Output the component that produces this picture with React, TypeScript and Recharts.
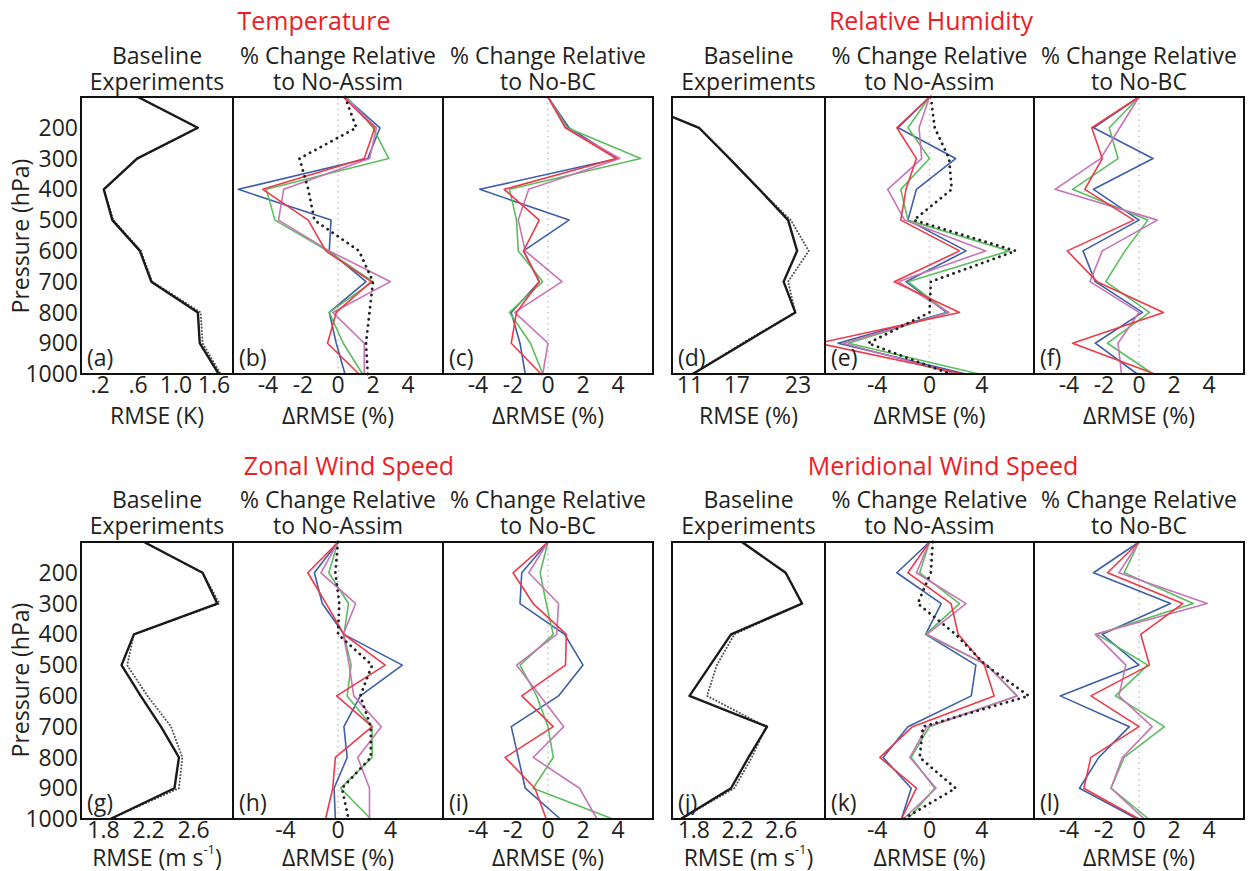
import React from 'react';
import { LineChart, Line, XAxis, YAxis, ReferenceLine } from 'recharts';

const pressure = [100, 200, 300, 400, 500, 600, 700, 800, 900, 1000];
const pressureTicks = [200, 300, 400, 500, 600, 700, 800, 900, 1000];

// (a) Temperature baseline
const tempBaseSolid = [0.6, 1.23, 0.59, 0.24, 0.33, 0.62, 0.74, 1.23, 1.25, 1.45];
const tempBaseDotted = [0.6, 1.23, 0.59, 0.24, 0.34, 0.63, 0.75, 1.26, 1.28, 1.47];
// (b) Temperature vs No-Assim
const tempAssimBlue = [0.4, 2.4, 1.7, -5.7, -0.4, -0.5, 1.6, -0.5, -0.1, 0.4];
const tempAssimGreen = [0.5, 2.0, 2.9, -4.1, -3.6, -0.6, 2.0, -0.5, 0.3, 1.4];
const tempAssimPink = [0.4, 2.2, 1.8, -3.1, -3.4, -0.5, 3.0, -0.3, 1.5, 1.5];
const tempAssimRed = [0.3, 2.1, 1.5, -4.3, -1.7, -0.7, 1.9, -0.1, -0.6, 1.2];
const tempAssimDotted = [0.4, 1.05, -2.2, -1.7, -1.35, 1.2, 2.0, 1.8, 1.6, 1.7];
// (c) Temperature vs No-BC
const tempBcBlue = [0, 1.2, 4.0, -3.9, 1.2, -1.4, -0.5, -2.1, -1.6, -1.3];
const tempBcGreen = [0, 1.1, 5.3, -2.2, -1.8, -1.7, -0.3, -2.2, -1.0, -0.3];
const tempBcPink = [0, 1.0, 4.1, -1.1, -1.7, -1.3, 0.8, -1.9, 0.0, -0.3];
const tempBcRed = [0, 1.0, 3.9, -2.5, -0.5, -1.4, -0.5, -1.8, -2.1, -0.4];

// (d) Relative humidity baseline
const rhBaseSolid = [3.6, 12.0, 15.4, 18.7, 21.9, 22.9, 21.4, 22.7, 17.0, 11.3];
const rhBaseDotted = [3.6, 12.0, 15.4, 18.7, 22.2, 24.2, 21.9, 22.7, 16.8, 11.3];
// (e) RH vs No-Assim
const rhAssimBlue = [0, -2.4, 2.0, -1.0, -1.65, 2.8, -1.8, 1.3, -7.0, 2.8];
const rhAssimGreen = [0, -1.65, 0, -2.2, -1.65, 6.1, -1.65, 1.4, -6.2, 3.8];
const rhAssimPink = [0, -0.8, -0.6, -3.2, -1.9, 4.3, -2.4, 1.5, -6.6, 2.0];
const rhAssimRed = [0, -2.5, -1.0, -1.8, -2.2, 2.3, -2.7, 2.3, -8.5, 2.6];
const rhAssimDotted = [0.1, 0.4, 1.5, 1.7, -1.2, 6.6, 0.1, 0.0, -4.7, 1.6];
// (f) RH vs No-BC
const rhBcBlue = [0, -2.6, 0.8, -2.6, 0, -3.2, -2.5, 0.2, -2.5, -0.1];
const rhBcGreen = [0, -1.7, -1.2, -3.8, 0.5, -0.8, -1.9, 0.6, -1.8, 0.8];
const rhBcPink = [0, -1.1, -2.2, -4.8, 1.05, -2.1, -2.8, 0, -1.2, -1.0];
const rhBcRed = [0, -2.7, -2.1, -3.1, -0.3, -4.1, -2.4, 1.4, -3.8, 0.9];

// (g) Zonal wind baseline
const uBaseSolid = [2.16, 2.68, 2.81, 2.07, 1.96, 2.13, 2.31, 2.47, 2.43, 1.86];
const uBaseDotted = [2.16, 2.68, 2.83, 2.07, 2.01, 2.19, 2.4, 2.5, 2.47, 1.86];
// (h) Zonal vs No-Assim
const uAssimBlue = [0, -1.8, -1.2, 0.45, 4.9, 1.7, 0.45, 0.7, -0.3, -0.2];
const uAssimGreen = [0, -0.7, 0.8, 0.45, 1.0, 0.7, 2.6, 2.6, 0.2, 2.5];
const uAssimPink = [0, -1.3, 1.35, 0.4, 0.85, 1.2, 3.3, 1.5, 2.4, 2.4];
const uAssimRed = [0, -2.3, -0.9, 0.45, 3.6, -0.1, 2.6, -0.2, -0.4, -0.95];
const uAssimDotted = [0, -0.2, 0.1, 0, 2.6, 1.7, 2.5, 2.5, 0.3, 0.8];
// (i) Zonal vs No-BC
const uBcBlue = [0, -1.5, -1.6, 0.95, 2.0, 0.6, -2.1, -1.7, -1.3, 0.7];
const uBcGreen = [0, -0.45, -0.1, 0.3, -1.6, -0.65, 0, 0.3, -0.85, 3.7];
const uBcPink = [0, -1.1, 0.6, 0.5, -1.8, -0.45, 0.9, -0.85, 1.8, 2.8];
const uBcRed = [0, -2.0, -0.85, 1.05, 1.0, -1.5, 0.3, -2.45, -0.75, -0.1];

// (j) Meridional wind baseline
const vBaseSolid = [2.24, 2.64, 2.79, 2.14, 1.95, 1.76, 2.47, 2.3, 2.14, 1.68];
const vBaseDotted = [2.24, 2.64, 2.79, 2.17, 2.01, 1.92, 2.46, 2.33, 2.17, 1.68];
// (k) Meridional vs No-Assim
const vAssimBlue = [0, -2.5, 0.9, -0.3, 3.55, 3.2, -1.65, -3.55, -1.4, -2.15];
const vAssimGreen = [0, -0.75, 2.3, -0.3, 4.4, 6.7, 0, -1.4, 0.4, -1.65];
const vAssimPink = [0, -1.0, 2.8, -0.2, 4.4, 6.7, -0.2, -1.5, 0.5, -2.0];
const vAssimRed = [0, -1.65, 1.65, 2.2, 4.2, 4.95, -1.3, -3.8, -1.0, -2.15];
const vAssimDotted = [0.25, 0.1, -0.9, 2.0, 4.3, 7.6, -0.5, -0.75, 2.0, -2.0];
// (l) Meridional vs No-BC
const vBcBlue = [0, -2.6, 1.8, -2.1, 0, -4.5, -0.55, -2.3, -3.4, -0.1];
const vBcGreen = [0, -0.85, 3.1, -2.4, 0.5, -1.35, 1.45, -0.85, -1.6, 0.55];
const vBcPink = [0, -1.15, 3.9, -2.5, -0.75, -1.15, 0.75, -0.95, -1.6, 0.3];
const vBcRed = [0, -1.8, 2.5, 0.1, 0.6, -2.75, 0, -2.75, -3.15, 0];

// tick values & labels
const tempBaseTicks = [0.2, 0.6, 1.0, 1.4];
const tempBaseLabels = ['.2', '.6', '1.0', '1.6'];
const rhBaseTicks = [11, 16.2, 23];
const rhBaseLabels = ['11', '17', '23'];
const windBaseTicks = [1.8, 2.2, 2.6];
const windBaseLabels = ['1.8', '2.2', '2.6'];
const diff6Ticks = [-4, -2, 0, 2, 4];
const diff6Labels = ['-4', '-2', '0', '2', '4'];
const diff8Ticks = [-4, 0, 4];
const diff8Labels = ['-4', '0', '4'];

const BLUE = '#3e5ea8';
const GREEN = '#5cbd5e';
const PINK = '#c774b6';
const RED = '#ec3a48';
const BLACK = '#1a1a1a';
const TITLE_RED = '#ee1c25';
const FONT = '"Open Sans", sans-serif';
const FS = 23;

type S = { name: string; values: number[]; color: string; width: number; dash?: string; cap?: 'round' | 'butt' };

const baseSeries = (solid: number[], dotted: number[]): S[] => [
  { name: 'dotted', values: dotted, color: '#555', width: 2, dash: '0.1 3.2', cap: 'round' },
  { name: 'solid', values: solid, color: BLACK, width: 2.4 },
];
const diffSeries = (b: number[], g: number[], p: number[], r: number[], d?: number[]): S[] => {
  const out: S[] = [
    { name: 'blue', values: b, color: BLUE, width: 1.6 },
    { name: 'green', values: g, color: GREEN, width: 1.6 },
    { name: 'pink', values: p, color: PINK, width: 1.6 },
    { name: 'red', values: r, color: RED, width: 1.6 },
  ];
  if (d) out.push({ name: 'dotted', values: d, color: '#222', width: 2.8, dash: '0.1 6', cap: 'round' });
  return out;
};

type PanelProps = {
  left: number; right: number; top: number; bottom: number;
  domain: [number, number]; ticks: number[]; labels: string[];
  showY?: boolean; zero?: boolean; series: S[]; tag: string;
};

function Panel({ left, right, top, bottom, domain, ticks, labels, showY, zero, series, tag }: PanelProps) {
  const w = right - left;
  const h = bottom - top;
  const yW = showY ? 81 : 0;
  const xH = 34;
  const data = pressure.map((p, i) => {
    const row: Record<string, number> = { p };
    series.forEach((s) => { row[s.name] = s.values[i]; });
    return row;
  });
  const fmt = (v: number) => {
    const k = ticks.indexOf(v);
    return k >= 0 ? labels[k] : String(v);
  };
  return (
    <div style={{ position: 'absolute', left: left - yW, top: top - 14, width: w + yW, height: h + xH + 14 }}>
      <LineChart layout="vertical" width={w + yW} height={h + xH + 14} data={data}
        margin={{ top: 14, right: 0, bottom: 0, left: 0 }}>
        <XAxis type="number" domain={domain} allowDataOverflow ticks={ticks} interval={0}
          tickFormatter={fmt} axisLine={false} tickLine={false} tickSize={0} tickMargin={3} height={xH}
          tick={{ fontSize: FS, fill: '#231f20', fontFamily: FONT }} />
        <YAxis type="number" dataKey="p" domain={[100, 1000]} ticks={pressureTicks} interval={0}
          hide={!showY} width={yW} axisLine={false} tickLine={false} tickSize={0} tickMargin={3}
          tick={{ fontSize: FS, fill: '#231f20', fontFamily: FONT }} />
        {zero && <ReferenceLine x={0} stroke="#c4c4c4" strokeWidth={1.5} strokeDasharray="1.5 4" />}
        {series.map((s) => (
          <Line key={s.name} type="linear" dataKey={s.name} stroke={s.color} strokeWidth={s.width}
            strokeDasharray={s.dash} strokeLinecap={s.cap || 'butt'} strokeLinejoin="round"
            dot={false} activeDot={false} isAnimationActive={false} />
        ))}
      </LineChart>
      <div style={{ position: 'absolute', left: yW - 1, top: 13, width: w + 2, height: h + 2,
        border: '2px solid #111', boxSizing: 'border-box', pointerEvents: 'none' }} />
      <div style={{ position: 'absolute', left: yW + 6, top: h - 17, fontSize: FS, fontFamily: FONT,
        color: '#231f20', lineHeight: '28px' }}>{tag}</div>
    </div>
  );
}

function Txt({ x, y, children, size = FS, color = '#231f20', rotate, lh }: { x: number; y: number; children: React.ReactNode; size?: number; color?: string; rotate?: boolean; lh?: number }) {
  return (
    <div style={{ position: 'absolute', left: x, top: y, transform: `translate(-50%, -50%)${rotate ? ' rotate(-90deg)' : ''}`,
      fontSize: size, color, fontFamily: FONT, whiteSpace: 'nowrap', lineHeight: lh ? `${lh}px` : 1, textAlign: 'center' }}>{children}</div>
  );
}

const RMSE_WIND = <span>RMSE (m s<sup style={{ fontSize: 13, verticalAlign: 'top', position: 'relative', top: -3 }}>-1</sup>)</span>;

function Head({ x, y, l1, l2 }: { x: number; y: number; l1: string; l2: string }) {
  return <Txt x={x} y={y + 13} lh={26}>{l1}<br />{l2}</Txt>;
}

function Group({ top, bottom, x0, title, titleX, titleY, baseUnit, basePanel, assimPanel, bcPanel, headY, axisY, showY, tags }: any) {
  const [a, b, c, d] = x0;
  return (
    <>
      <Txt x={titleX} y={titleY} size={25} color={TITLE_RED}>{title}</Txt>
      <Head x={(a + b) / 2} y={headY} l1="Baseline" l2="Experiments" />
      <Head x={(b + c) / 2} y={headY} l1="% Change Relative" l2="to No-Assim" />
      <Head x={(c + d) / 2} y={headY} l1="% Change Relative" l2="to No-BC" />
      <Panel left={a} right={b} top={top} bottom={bottom} showY={showY} tag={tags[0]} {...basePanel} />
      <Panel left={b} right={c} top={top} bottom={bottom} zero tag={tags[1]} {...assimPanel} />
      <Panel left={c} right={d} top={top} bottom={bottom} zero tag={tags[2]} {...bcPanel} />
      <Txt x={(a + b) / 2} y={axisY}>{baseUnit}</Txt>
      <Txt x={(b + c) / 2} y={axisY}>ΔRMSE (%)</Txt>
      <Txt x={(c + d) / 2} y={axisY}>ΔRMSE (%)</Txt>
    </>
  );
}

export default function App() {
  const L = [81, 233, 443, 653];
  const R = [672, 825, 1034, 1244];
  return (
    <div style={{ position: 'absolute', left: 0, top: 0, width: 1253, height: 871, background: '#fff', overflow: 'hidden', fontFamily: FONT }}>
      <Txt x={20} y={236} rotate>Pressure (hPa)</Txt>
      <Txt x={20} y={680} rotate>Pressure (hPa)</Txt>
      <Group top={97} bottom={374} x0={L} title="Temperature" titleX={314} titleY={20} headY={55} axisY={415}
        baseUnit="RMSE (K)" showY tags={['(a)', '(b)', '(c)']}
        basePanel={{ domain: [0, 1.6], ticks: tempBaseTicks, labels: tempBaseLabels, series: baseSeries(tempBaseSolid, tempBaseDotted) }}
        assimPanel={{ domain: [-6, 6], ticks: diff6Ticks, labels: diff6Labels, series: diffSeries(tempAssimBlue, tempAssimGreen, tempAssimPink, tempAssimRed, tempAssimDotted) }}
        bcPanel={{ domain: [-6, 6], ticks: diff6Ticks, labels: diff6Labels, series: diffSeries(tempBcBlue, tempBcGreen, tempBcPink, tempBcRed) }} />
      <Group top={97} bottom={374} x0={R} title="Relative Humidity" titleX={931} titleY={20} headY={55} axisY={415}
        baseUnit="RMSE (%)" tags={['(d)', '(e)', '(f)']}
        basePanel={{ domain: [9, 26], ticks: rhBaseTicks, labels: rhBaseLabels, series: baseSeries(rhBaseSolid, rhBaseDotted) }}
        assimPanel={{ domain: [-8, 8], ticks: diff8Ticks, labels: diff8Labels, series: diffSeries(rhAssimBlue, rhAssimGreen, rhAssimPink, rhAssimRed, rhAssimDotted) }}
        bcPanel={{ domain: [-6, 6], ticks: diff6Ticks, labels: diff6Labels, series: diffSeries(rhBcBlue, rhBcGreen, rhBcPink, rhBcRed) }} />
      <Group top={542} bottom={819} x0={L} title="Zonal Wind Speed" titleX={349} titleY={465} headY={499} axisY={857}
        baseUnit={RMSE_WIND} showY tags={['(g)', '(h)', '(i)']}
        basePanel={{ domain: [1.6, 2.95], ticks: windBaseTicks, labels: windBaseLabels, series: baseSeries(uBaseSolid, uBaseDotted) }}
        assimPanel={{ domain: [-8, 8], ticks: diff8Ticks, labels: diff8Labels, series: diffSeries(uAssimBlue, uAssimGreen, uAssimPink, uAssimRed, uAssimDotted) }}
        bcPanel={{ domain: [-6, 6], ticks: diff6Ticks, labels: diff6Labels, series: diffSeries(uBcBlue, uBcGreen, uBcPink, uBcRed) }} />
      <Group top={542} bottom={819} x0={R} title="Meridional Wind Speed" titleX={943} titleY={465} headY={499} axisY={857}
        baseUnit={RMSE_WIND} tags={['(j)', '(k)', '(l)']}
        basePanel={{ domain: [1.6, 3.0], ticks: windBaseTicks, labels: windBaseLabels, series: baseSeries(vBaseSolid, vBaseDotted) }}
        assimPanel={{ domain: [-8, 8], ticks: diff8Ticks, labels: diff8Labels, series: diffSeries(vAssimBlue, vAssimGreen, vAssimPink, vAssimRed, vAssimDotted) }}
        bcPanel={{ domain: [-6, 6], ticks: diff6Ticks, labels: diff6Labels, series: diffSeries(vBcBlue, vBcGreen, vBcPink, vBcRed) }} />
    </div>
  );
}
